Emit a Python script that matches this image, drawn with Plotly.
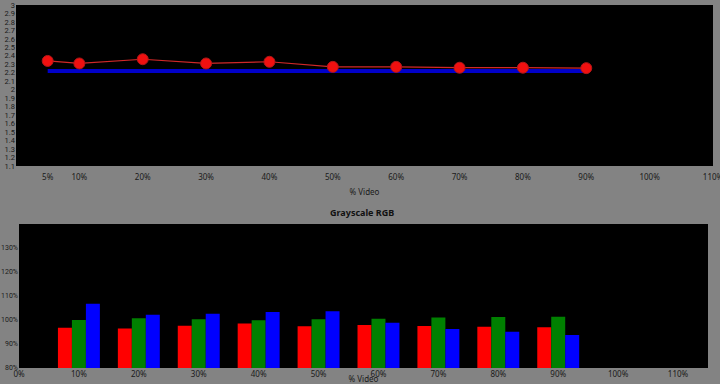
import plotly.graph_objects as go

# Top chart: gamma
gamma_x = [5, 10, 20, 30, 40, 50, 60, 70, 80, 90]
gamma_vals = [2.34, 2.31, 2.36, 2.31, 2.33, 2.27, 2.27, 2.26, 2.26, 2.255]
target_x = [5, 90]
target_vals = [2.22, 2.22]
top_yticks = [round(1.1 + 0.1 * i, 1) for i in range(20)]
top_xticks = [5, 10, 20, 30, 40, 50, 60, 70, 80, 90, 100, 110]

# Bottom chart: Grayscale RGB
rgb_x = [10, 20, 30, 40, 50, 60, 70, 80, 90]
red_vals = [96.8, 96.5, 97.6, 98.5, 97.4, 97.9, 97.5, 97.2, 97.0]
green_vals = [100.0, 100.7, 100.3, 99.9, 100.3, 100.5, 101.0, 101.25, 101.4]
blue_vals = [106.8, 102.2, 102.6, 103.3, 103.6, 98.9, 96.25, 95.1, 93.75]
bot_yticks = [80, 90, 100, 110, 120, 130]
bot_xticks = [0, 10, 20, 30, 40, 50, 60, 70, 80, 90, 100, 110]

W, H = 720, 384
fig = go.Figure()

fig.add_trace(go.Scatter(x=target_x, y=target_vals, mode="lines",
                         line=dict(color="#0000C8", width=4),
                         xaxis="x", yaxis="y", showlegend=False))
fig.add_trace(go.Scatter(x=gamma_x, y=gamma_vals, mode="lines+markers",
                         line=dict(color="#D02828", width=1.2),
                         marker=dict(color="#F01010", size=11,
                                     line=dict(color="#B01818", width=1)),
                         xaxis="x", yaxis="y", showlegend=False))

for vals, col in [(red_vals, "#FF0000"), (green_vals, "#008000"), (blue_vals, "#0000FF")]:
    fig.add_trace(go.Bar(x=rgb_x, y=vals, marker=dict(color=col, line=dict(width=0)),
                         xaxis="x2", yaxis="y2", showlegend=False))

font = dict(family="Noto Sans, DejaVu Sans, sans-serif", size=8, color="#1a1a1a")
small = dict(family="Roboto, Noto Sans, sans-serif", size=7.5, color="#1a1a1a")

common = dict(showgrid=False, zeroline=False, ticks="", ticklen=0,
              automargin=False, ticklabeloverflow="allow", showline=False)

fig.update_layout(
    width=W, height=H,
    margin=dict(l=0, r=0, t=0, b=0, autoexpand=False),
    paper_bgcolor="#838383",
    plot_bgcolor="#000000",
    font=font,
    barmode="group",
    bargap=0.3,
    bargroupgap=0,
    xaxis=dict(domain=[16 / W, 713 / W], range=[0, 110], anchor="y",
               tickvals=top_xticks, ticktext=[f"{v}%" for v in top_xticks],
               ticklabelstandoff=5,
               title=dict(text="% Video", standoff=8, font=font), **common),
    yaxis=dict(domain=[1 - 166 / H, 1 - 5 / H], range=[1.1, 3], anchor="x",
               tickvals=top_yticks, ticktext=[f"{v:g}" for v in top_yticks],
               tickfont=small, **common),
    xaxis2=dict(domain=[19 / W, 708 / W], range=[0, 115], anchor="y2",
                tickvals=bot_xticks, ticktext=[f"{v}%" for v in bot_xticks],
                title=dict(text="% Video", standoff=2, font=font), **common),
    yaxis2=dict(domain=[1 - 368 / H, 1 - 224 / H], range=[80, 140], anchor="x2",
                tickvals=bot_yticks, ticktext=[f"{v}%" for v in bot_yticks],
                tickfont=dict(family="Roboto, Noto Sans, sans-serif", size=7, color="#1a1a1a"),
                **common),
    annotations=[dict(text="<b>Grayscale RGB</b>", x=362 / W, y=1 - 212 / H,
                      xref="paper", yref="paper", showarrow=False,
                      font=dict(family="Noto Sans, DejaVu Sans, sans-serif", size=9, color="#111"))],
)

fig.write_html("out.html", config={"displayModeBar": False},
               post_script="document.body.style.margin='0';document.body.style.background='#838383';")
